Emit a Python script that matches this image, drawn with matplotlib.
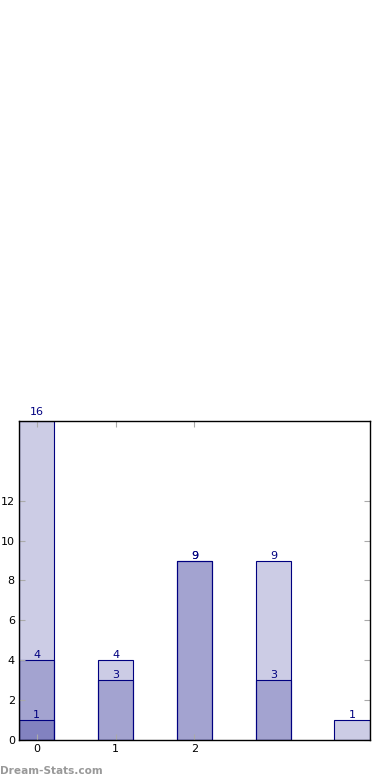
import matplotlib
matplotlib.use("Agg")
import matplotlib.pyplot as plt

# three overlaid series, same positions, drawn translucent
positions = [0, 1, 2, 3, 4]
series_top = [16, 4, 9, 9, 1]
series_mid = [4, 3, 9, 3, 0]
series_low = [1, 0, 0, 0, 0]
xtick_vals = [0, 1, 2]
ytick_vals = [0, 2, 4, 6, 8, 10, 12]
y_max = 16

fig = plt.figure(figsize=(3.9, 7.8), dpi=100)
ax = fig.add_axes([0.0487, 0.0513, 0.9, 0.409])

for vals in (series_top, series_mid, series_low):
    xs = [p for p, v in zip(positions, vals) if v > 0]
    hs = [v for v in vals if v > 0]
    ax.bar(xs, hs, width=0.45, color=(0, 0, 0.5, 0.2), edgecolor="navy", linewidth=0.8)
    for x, h in zip(xs, hs):
        # keep the label clear of the top spine
        off = 2.5 if h >= y_max else 0
        ax.annotate(str(h), (x, h), xytext=(0, off), textcoords="offset points",
                    ha="center", va="bottom", fontsize=8, color="navy",
                    annotation_clip=False)

ax.set_xlim(-0.225, 4.225)
ax.set_ylim(0, y_max)
ax.set_xticks(xtick_vals)
ax.set_yticks(ytick_vals)
ax.tick_params(direction="in", length=4, color="#aaaaaa", labelsize=8,
               top=True, right=True, pad=3)
for s in ax.spines.values():
    s.set_linewidth(1)

fig.text(0.0, 0.008, "Dream-Stats.com", fontsize=7.6, fontweight="bold", color="#999999")

fig.savefig("out.png", dpi=100)
